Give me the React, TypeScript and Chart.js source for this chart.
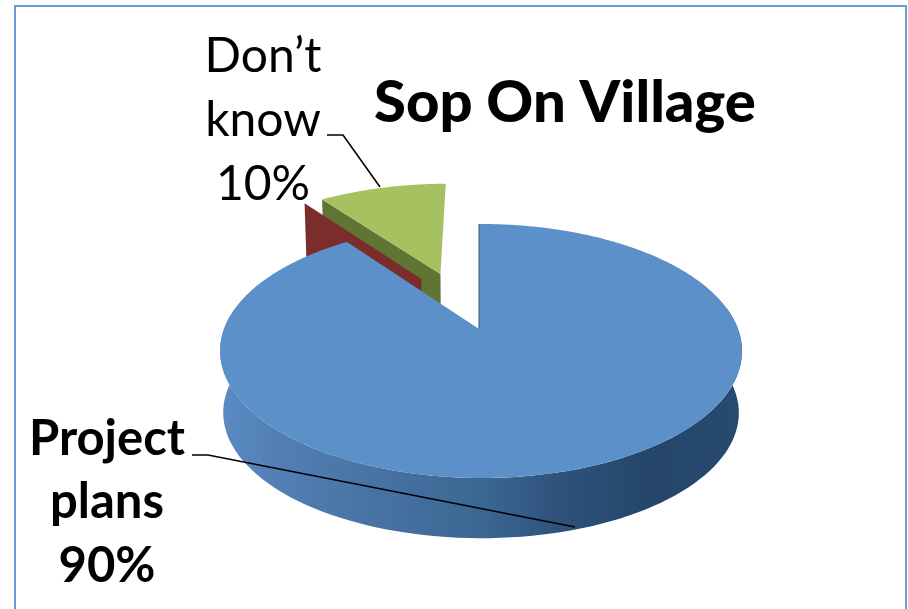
import React, { useEffect, useRef } from "react";
import { Chart, registerables } from "chart.js";

Chart.register(...registerables);

// Survey shares; the middle category is an empty answer and only shows as a slab.
const categories = ["Project plans", "", "Don\u2019t know"];
const shares = [90, 0, 10];

const faceColors = ["#5B90C8", "#953735", "#A6C160"];
const wallColors = ["#3F6B98", "#7A2D2B", "#5F7533"];
const explode = [0, 0.5, 0.51];
const explodeNudgeDeg = [0, 7.1, -0.6];

// Tilted-disc projection of the pie plane.
const CX = 479;
const CY = 329;
const RX = 257;
const RY = 123.2;
const PERSP_V = 0.173;
const PERSP_U = 0.0077;
const BASE_SCALE = 0.988;
const VANISH_Y = 5496;

const FONT = "Lato, Carlito, sans-serif";

type Pt = [number, number];

function project(u: number, v: number, base: boolean): Pt {
  const w = 1 - PERSP_V * v - PERSP_U * u;
  let x = CX + (RX * u) / w;
  let y = CY + (RY * v) / w;
  if (base) {
    x = CX + (x - CX) * BASE_SCALE;
    y = VANISH_Y + (y - VANISH_Y) * BASE_SCALE;
  }
  return [x, y];
}

function rimPoint(theta: number, ou: number, ov: number, base: boolean): Pt {
  return project(ou + Math.sin(theta), ov - Math.cos(theta), base);
}

function fillPath(ctx: CanvasRenderingContext2D, pts: Pt[], fill: string | CanvasGradient) {
  ctx.beginPath();
  pts.forEach(([x, y], i) => (i ? ctx.lineTo(x, y) : ctx.moveTo(x, y)));
  ctx.closePath();
  ctx.fillStyle = fill;
  ctx.fill();
}

function polyline(ctx: CanvasRenderingContext2D, pts: Pt[]) {
  ctx.beginPath();
  pts.forEach(([x, y], i) => (i ? ctx.lineTo(x, y) : ctx.moveTo(x, y)));
  ctx.strokeStyle = "#000";
  ctx.lineWidth = 1.6;
  ctx.stroke();
}

function textBlock(
  ctx: CanvasRenderingContext2D,
  lines: string[],
  x: number,
  baselines: number[],
  font: string,
) {
  ctx.font = font;
  ctx.fillStyle = "#000";
  ctx.textAlign = "center";
  ctx.textBaseline = "alphabetic";
  lines.forEach((line, i) => ctx.fillText(line, x, baselines[i]));
}

const pie3d = {
  id: "pie3d",
  beforeDraw(chart: any) {
    const { ctx } = chart;
    ctx.save();
    ctx.fillStyle = "#fff";
    ctx.fillRect(0, 0, chart.width, chart.height);
    ctx.strokeStyle = "#6C9BD2";
    ctx.lineWidth = 2;
    ctx.strokeRect(15, 6, 891, 640);
    ctx.restore();
  },
  beforeDatasetsDraw(chart: any) {
    const { ctx } = chart;
    const arcs = chart.getDatasetMeta(0).data;
    ctx.save();

    // Far slices first so the large slice covers them.
    for (let i = arcs.length - 1; i >= 0; i--) {
      const start = arcs[i].startAngle + Math.PI / 2;
      const end = arcs[i].endAngle + Math.PI / 2;
      const mid = (start + end) / 2 + (explodeNudgeDeg[i] * Math.PI) / 180;
      const ou = explode[i] * Math.sin(mid);
      const ov = -explode[i] * Math.cos(mid);

      if (i > 0) {
        fillPath(
          ctx,
          [
            rimPoint(start, ou, ov, false),
            project(ou, ov, false),
            project(ou, ov, true),
            rimPoint(start, ou, ov, true),
          ],
          wallColors[i],
        );
      } else {
        const top: Pt[] = [];
        const bottom: Pt[] = [];
        for (let d = 80; d <= 280; d += 2) {
          const t = (d * Math.PI) / 180;
          top.push(rimPoint(t, ou, ov, false));
          bottom.unshift(rimPoint(t, ou, ov, true));
        }
        const g = ctx.createLinearGradient(220, 0, 742, 0);
        g.addColorStop(0, "#5B8BC4");
        g.addColorStop(0.1, "#5280B6");
        g.addColorStop(0.35, "#446F9E");
        g.addColorStop(0.5, "#3C6794");
        g.addColorStop(0.65, "#2E527C");
        g.addColorStop(0.82, "#254669");
        g.addColorStop(1, "#274A70");
        fillPath(ctx, [...top, ...bottom], g);
      }

      if (end > start) {
        const face: Pt[] = [project(ou, ov, false)];
        const steps = Math.ceil((end - start) / 0.01);
        for (let s = 0; s <= steps; s++) {
          face.push(rimPoint(start + ((end - start) * s) / steps, ou, ov, false));
        }
        fillPath(ctx, face, faceColors[i]);
      }

      if (i === 0) {
        // Thin shaded edge where the large slice begins.
        ctx.beginPath();
        ctx.moveTo(...rimPoint(start, 0, 0, false));
        ctx.lineTo(...project(0, 0, false));
        ctx.strokeStyle = "#35587F";
        ctx.lineWidth = 1;
        ctx.stroke();
      }
    }

    polyline(ctx, [[327, 135], [343, 135], [380, 187]]);
    polyline(ctx, [[192, 455], [208, 455], [575, 527]]);

    textBlock(ctx, ["Don\u2019t", "know", `${shares[2]}%`], 263, [72, 136, 200], `400 48px ${FONT}`);
    textBlock(ctx, ["Project", "plans", `${shares[0]}%`], 107, [455, 518, 582], `700 49px ${FONT}`);

    ctx.restore();
    return false;
  },
};

export default function App() {
  const ref = useRef<HTMLCanvasElement>(null);

  useEffect(() => {
    document.body.style.margin = "0";
    const chart = new Chart(ref.current!, {
      type: "pie",
      data: {
        labels: categories,
        datasets: [{ data: shares, backgroundColor: faceColors, borderWidth: 0 }],
      },
      options: {
        animation: false,
        responsive: false,
        layout: { padding: { left: 222 } },
        plugins: {
          legend: { display: false },
          tooltip: { enabled: false },
          title: {
            display: true,
            text: "Sop On Village",
            fullSize: false,
            color: "#000",
            font: { family: FONT, size: 58, weight: "900" },
            padding: { top: 68, bottom: 10 },
          },
        },
      },
      plugins: [pie3d],
    } as any);
    return () => chart.destroy();
  }, []);

  return <canvas ref={ref} width={908} height={609} style={{ display: "block" }} />;
}
